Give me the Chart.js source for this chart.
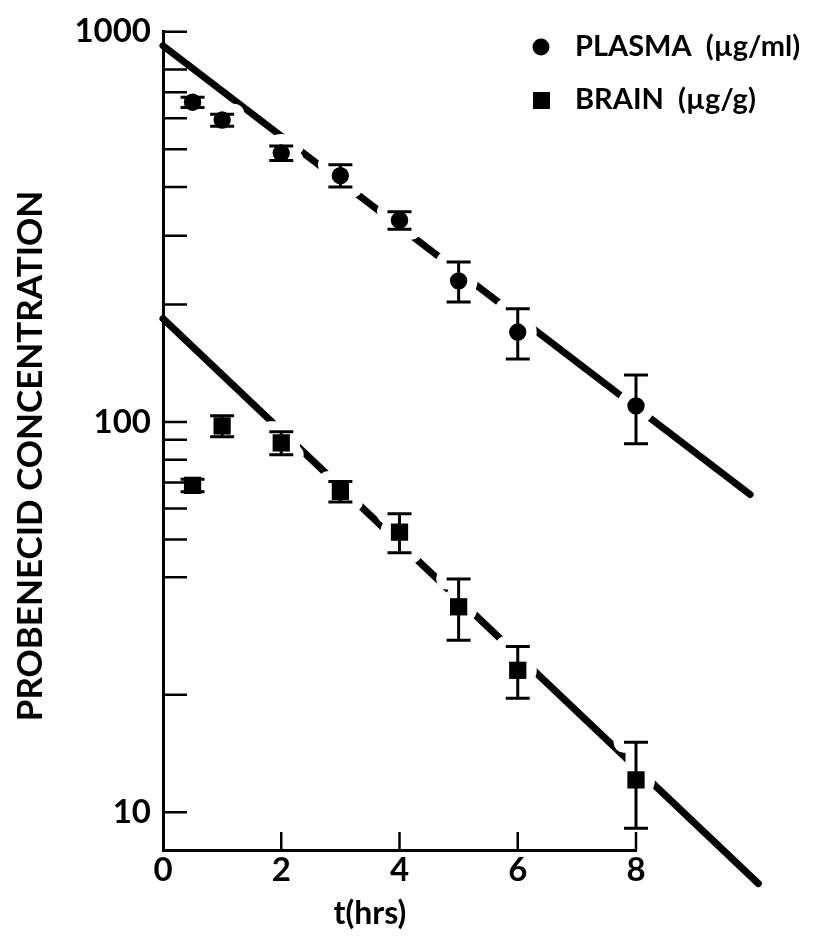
<!DOCTYPE html>
<html>
<head>
<meta charset="utf-8">
<script src="https://cdn.jsdelivr.net/npm/chart.js@4.4.1/dist/chart.umd.min.js"></script>
<style>
  html, body { margin: 0; padding: 0; background: #fff; }
  #wrap { width: 840px; height: 947px; }
</style>
</head>
<body>
<div id="wrap"><canvas id="myChart" width="840" height="947"></canvas></div>
<script>
// sampling times (h)
var times = [0.5, 1, 2, 3, 4, 5, 6, 8];

// probenecid, plasma (ug/ml) and brain (ug/g): means and error
var plasma = [660, 594, 489, 428, 329, 230, 170, 110];
var plasmaErr = [20, 21, 21, 28, 17, 27, 25, 22];
var brain = [68.8, 97.7, 88.4, 66.4, 52.2, 33.6, 23.1, 12.1];
var brainErr = [2.5, 6, 6, 4, 6, 6, 3.5, 3];

// fitted decay lines (end points only)
var plasmaFitT = [0, 9.93];
var plasmaFit = [921, 65.2];
var brainFitT = [0, 10.07];
var brainFit = [184, 6.56];

// axis ticks
var yTickValues = [1000, 800, 700, 600, 500, 400, 300, 200, 100, 90, 80, 70, 60, 50, 40, 20, 10];
var yTickLabels = [10, 100, 1000];
var xTickValues = [0, 2, 4, 6, 8];

var FONT = "Lato, 'DejaVu Sans', sans-serif";

function pts(xs, ys) {
    return xs.map(function (x, i) { return { x: x, y: ys[i] }; });
}

// error bars, with a white halo so the fit lines break around each point
var errorBars = {
    id: 'errorBars',
    beforeDatasetDraw: function (chart, args) {
        var ds = chart.data.datasets[args.index];
        if (!ds.errors) return;
        var ctx = chart.ctx;
        var xs = chart.scales.x, ys = chart.scales.y;
        var passes = [['#fff', 21, 10], ['#000', 3, 0]];
        ctx.save();
        passes.forEach(function (p) {
            ctx.strokeStyle = p[0];
            ctx.fillStyle = p[0];
            ctx.lineWidth = p[1];
            ctx.lineCap = p[2] ? 'round' : 'butt';
            ds.data.forEach(function (d, i) {
                var px = xs.getPixelForValue(d.x);
                var py = ys.getPixelForValue(d.y);
                var top = ys.getPixelForValue(d.y + ds.errors[i]);
                var bot = ys.getPixelForValue(d.y - ds.errors[i]);
                ctx.beginPath();
                ctx.moveTo(px, top);
                ctx.lineTo(px, bot);
                ctx.moveTo(px - 12, top);
                ctx.lineTo(px + 12, top);
                ctx.moveTo(px - 12, bot);
                ctx.lineTo(px + 12, bot);
                ctx.stroke();
                if (p[2]) {
                    ctx.beginPath();
                    ctx.arc(px, py, 9 + p[2], 0, Math.PI * 2);
                    ctx.fill();
                }
            });
        });
        ctx.restore();
    }
};

// inward tick marks on both axes
var axisTicks = {
    id: 'axisTicks',
    afterDatasetsDraw: function (chart) {
        var ctx = chart.ctx, area = chart.chartArea;
        var xs = chart.scales.x, ys = chart.scales.y;
        ctx.save();
        ctx.strokeStyle = '#000';
        ctx.lineWidth = 2.5;
        ctx.beginPath();
        yTickValues.forEach(function (v) {
            var py = ys.getPixelForValue(v);
            ctx.moveTo(area.left, py);
            ctx.lineTo(area.left + 24, py);
        });
        xTickValues.forEach(function (v) {
            if (v === 0) return;
            var px = xs.getPixelForValue(v);
            ctx.moveTo(px, area.bottom);
            ctx.lineTo(px, area.bottom - 18);
        });
        ctx.stroke();
        ctx.restore();
    }
};

// axis titles and legend
var labels = {
    id: 'labels',
    afterDraw: function (chart) {
        var ctx = chart.ctx;
        ctx.save();
        ctx.fillStyle = '#000';
        ctx.textBaseline = 'middle';

        ctx.font = 'bold 35px ' + FONT;
        ctx.textAlign = 'center';
        ctx.save();
        ctx.translate(31, 456);
        ctx.rotate(-Math.PI / 2);
        ctx.fillText('PROBENECID CONCENTRATION', 0, 0);
        ctx.restore();

        ctx.font = 'bold 32px ' + FONT;
        ctx.fillText('t(hrs)', 370, 914);

        ctx.textAlign = 'left';
        ctx.font = 'bold 29px ' + FONT;
        ctx.beginPath();
        ctx.arc(541, 47, 8.5, 0, Math.PI * 2);
        ctx.fill();
        ctx.fillText('PLASMA  (µg/ml)', 575, 47);
        ctx.fillRect(533, 92, 17, 17);
        ctx.fillText('BRAIN  (µg/g)', 575, 100);
        ctx.restore();
    }
};

var ctx = document.getElementById('myChart').getContext('2d');
var myChart = new Chart(ctx, {
    type: 'scatter',
    data: {
        datasets: [
            {
                type: 'line', label: 'plasma fit', data: pts(plasmaFitT, plasmaFit),
                borderColor: '#000', borderWidth: 7, borderCapStyle: 'round',
                pointRadius: 0, clip: false, order: 2
            },
            {
                type: 'line', label: 'brain fit', data: pts(brainFitT, brainFit),
                borderColor: '#000', borderWidth: 7, borderCapStyle: 'round',
                pointRadius: 0, clip: false, order: 2
            },
            {
                label: 'PLASMA (µg/ml)', data: pts(times, plasma), errors: plasmaErr,
                pointStyle: 'circle', pointRadius: 8.7, backgroundColor: '#000',
                borderWidth: 0, clip: false, order: 1
            },
            {
                label: 'BRAIN (µg/g)', data: pts(times, brain), errors: brainErr,
                pointStyle: 'rect', pointRadius: 12.2, backgroundColor: '#000',
                borderWidth: 0, clip: false, order: 1
            }
        ]
    },
    options: {
        responsive: false,
        animation: false,
        events: [],
        layout: { autoPadding: false, padding: { top: 26, right: 204, bottom: 0, left: 0 } },
        plugins: { legend: { display: false }, tooltip: { enabled: false } },
        scales: {
            x: {
                type: 'linear', min: 0, max: 8,
                afterFit: function (s) { s.height = 97; },
                afterBuildTicks: function (s) {
                    s.ticks = xTickValues.map(function (v) { return { value: v }; });
                },
                grid: { display: false, drawTicks: false },
                border: { display: true, color: '#000', width: 3 },
                ticks: { color: '#000', padding: 1, font: { family: FONT, size: 33, weight: 'bold' } }
            },
            y: {
                type: 'logarithmic', min: 8, max: 1000,
                afterFit: function (s) { s.width = 163; },
                afterBuildTicks: function (s) {
                    s.ticks = yTickValues.map(function (v) { return { value: v }; });
                },
                grid: { display: false, drawTicks: false },
                border: { display: true, color: '#000', width: 3 },
                ticks: {
                    color: '#000', padding: 12, autoSkip: false,
                    font: { family: FONT, size: 33, weight: 'bold' },
                    callback: function (v) { return yTickLabels.indexOf(v) >= 0 ? String(v) : ''; }
                }
            }
        }
    },
    plugins: [errorBars, axisTicks, labels]
});
</script>
</body>
</html>
